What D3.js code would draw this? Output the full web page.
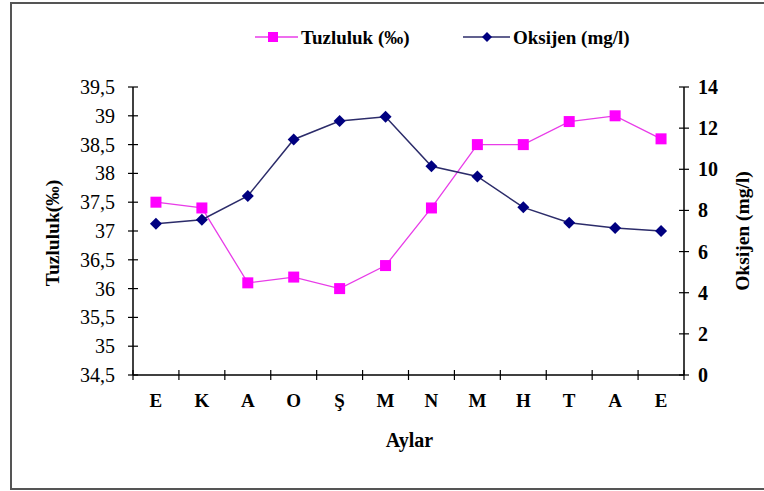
<!DOCTYPE html>
<html><head><meta charset="utf-8">
<script src="https://cdn.jsdelivr.net/npm/d3@7"></script>
<style>
html,body{margin:0;padding:0;background:#fff;}
svg{display:block;}
text{font-family:"Liberation Serif","Times New Roman","DejaVu Serif",serif;fill:#000;}
</style></head>
<body>
<script>
const months = ["E","K","A","O","Ş","M","N","M","H","T","A","E"];
const salinity = [37.5,37.4,36.1,36.2,36.0,36.4,37.4,38.5,38.5,38.9,39.0,38.6];
const oxygen = [7.35,7.55,8.7,11.45,12.35,12.55,10.15,9.65,8.15,7.4,7.15,7.0];
const leftTicks = [34.5,35,35.5,36,36.5,37,37.5,38,38.5,39,39.5];
const rightTicks = [0,2,4,6,8,10,12,14];
const seriesNames = ["Tuzluluk (‰)","Oksijen (mg/l)"];

const W=764,H=491;
const svg=d3.select("body").append("svg").attr("width",W).attr("height",H);
svg.append("rect").attr("x",0).attr("y",0).attr("width",W).attr("height",H).attr("fill","#fff");
svg.append("rect").attr("x",11).attr("y",3).attr("width",W+20).attr("height",486)
  .attr("fill","none").attr("stroke","#555").attr("stroke-width",2);

const L=133,R=684,T=87,B=375;
const x=d3.scaleBand().domain(d3.range(months.length)).range([L,R]);
const yL=d3.scaleLinear().domain([34.5,39.5]).range([B,T]);
const yR=d3.scaleLinear().domain([0,14]).range([B,T]);
const fmt=d=>String(d).replace(".",",");

const gl=svg.append("g");
gl.append("line").attr("x1",L).attr("x2",L).attr("y1",T).attr("y2",B).attr("stroke","#000").attr("stroke-width",1.5);
gl.selectAll(".t").data(leftTicks).join("line").attr("x1",L-5).attr("x2",L+5)
  .attr("y1",d=>yL(d)).attr("y2",d=>yL(d)).attr("stroke","#000").attr("stroke-width",1.2);
gl.selectAll("text").data(leftTicks).join("text").attr("x",L-18).attr("y",d=>yL(d)+7)
  .attr("text-anchor","end").style("font-size","20px").text(fmt);

const gr=svg.append("g");
gr.append("line").attr("x1",R).attr("x2",R).attr("y1",T).attr("y2",B).attr("stroke","#000").attr("stroke-width",1.5);
gr.selectAll(".t").data(rightTicks).join("line").attr("x1",R-5).attr("x2",R+5)
  .attr("y1",d=>yR(d)).attr("y2",d=>yR(d)).attr("stroke","#000").attr("stroke-width",1.2);
gr.selectAll("text").data(rightTicks).join("text").attr("x",R+14).attr("y",d=>yR(d)+7)
  .attr("text-anchor","start").style("font-size","20px").style("font-weight","bold").text(d=>d);

const gx=svg.append("g");
gx.append("line").attr("x1",L).attr("x2",R).attr("y1",B).attr("y2",B).attr("stroke","#000").attr("stroke-width",1.5);
const xt=d3.range(months.length+1).map(i=>i<months.length?x(i):R);
gx.selectAll(".t").data(xt).join("line").attr("x1",d=>d).attr("x2",d=>d)
  .attr("y1",B-5).attr("y2",B+5).attr("stroke","#000").attr("stroke-width",1.2);
gx.selectAll("text").data(months).join("text").attr("x",(d,i)=>x(i)+x.bandwidth()/2).attr("y",B+32)
  .attr("text-anchor","middle").style("font-size","19px").style("font-weight","bold").text(d=>d);

svg.append("text").attr("x",(L+R)/2+1).attr("y",447).attr("text-anchor","middle")
  .style("font-size","20px").style("font-weight","bold").text("Aylar");
svg.append("text").attr("transform",`translate(59,${(T+B)/2+2}) rotate(-90)`).attr("text-anchor","middle")
  .style("font-size","19.5px").style("font-weight","bold").text("Tuzluluk(‰)");
svg.append("text").attr("transform",`translate(749,${(T+B)/2}) rotate(-90)`).attr("text-anchor","middle")
  .style("font-size","19.5px").style("font-weight","bold").text("Oksijen (mg/l)");

const cx=i=>x(i)+x.bandwidth()/2;
svg.append("path").datum(salinity).attr("fill","none").attr("stroke","#e83ce8").attr("stroke-width",1.3)
  .attr("d",d3.line().x((d,i)=>cx(i)).y(d=>yL(d)));
svg.append("path").datum(oxygen).attr("fill","none").attr("stroke","#2c2c6a").attr("stroke-width",1.5)
  .attr("d",d3.line().x((d,i)=>cx(i)).y(d=>yR(d)));
const sq=11, dm=6;
svg.selectAll(".sq").data(salinity).join("rect").attr("x",(d,i)=>cx(i)-sq/2).attr("y",d=>yL(d)-sq/2)
  .attr("width",sq).attr("height",sq).attr("fill","#ff00ff");
svg.selectAll(".dm").data(oxygen).join("path")
  .attr("d",(d,i)=>{const X=cx(i),Y=yR(d);return `M${X},${Y-dm}L${X+dm},${Y}L${X},${Y+dm}L${X-dm},${Y}Z`;})
  .attr("fill","#000080");

const lg=svg.append("g");
lg.append("line").attr("x1",255).attr("x2",298).attr("y1",37).attr("y2",37).attr("stroke","#e83ce8").attr("stroke-width",1.3);
lg.append("rect").attr("x",273-5).attr("y",37-5).attr("width",10).attr("height",10).attr("fill","#ff00ff");
lg.append("text").attr("x",301).attr("y",44).style("font-size","19px").style("font-weight","bold").text(seriesNames[0]);
lg.append("line").attr("x1",463).attr("x2",510).attr("y1",37).attr("y2",37).attr("stroke","#2c2c6a").attr("stroke-width",1.5);
lg.append("path").attr("d",`M487,${37-5}L${487+5},37L487,${37+5}L${487-5},37Z`).attr("fill","#000080");
lg.append("text").attr("x",513).attr("y",44).style("font-size","19px").style("font-weight","bold").text(seriesNames[1]);
</script>
</body></html>
